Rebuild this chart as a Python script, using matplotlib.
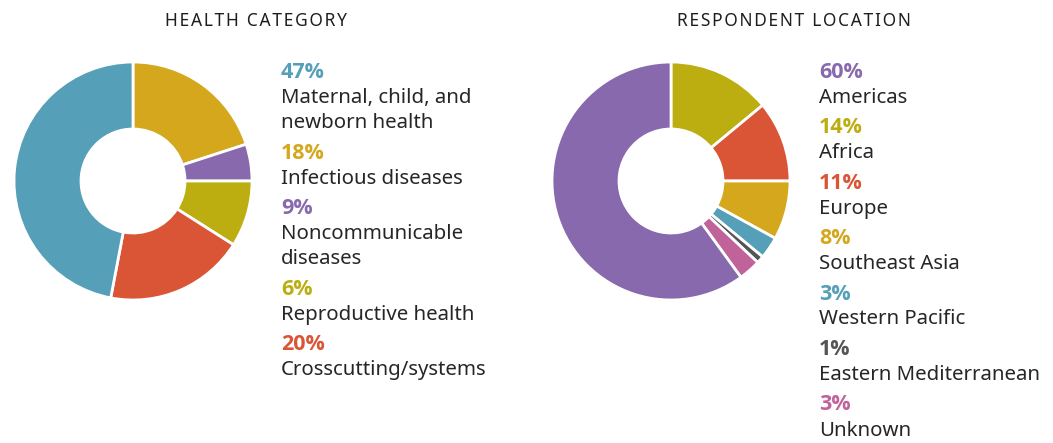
import matplotlib.pyplot as plt

# health category (wedge sizes read from the donut, labels from the legend)
health_sizes = [20, 5, 9, 19, 47]
health_colors = ['#d5a71d', '#8869ad', '#bcae10', '#d95535', '#55a0b8']
health_pct = ['47%', '18%', '9%', '6%', '20%']
health_labels = ['Maternal, child, and\nnewborn health', 'Infectious diseases',
                 'Noncommunicable\ndiseases', 'Reproductive health', 'Crosscutting/systems']
health_label_colors = ['#55a0b8', '#d5a71d', '#8869ad', '#bcae10', '#d95535']

# respondent location
loc_sizes = [14, 11, 8, 3, 1, 3, 60]
loc_colors = ['#bcae10', '#d95535', '#d5a71d', '#55a0b8', '#555555', '#c0639a', '#8869ad']
loc_pct = ['60%', '14%', '11%', '8%', '3%', '1%', '3%']
loc_labels = ['Americas', 'Africa', 'Europe', 'Southeast Asia', 'Western Pacific',
              'Eastern Mediterranean', 'Unknown']
loc_label_colors = ['#8869ad', '#bcae10', '#d95535', '#d5a71d', '#55a0b8', '#555555', '#c0639a']

W, H = 1053, 443
plt.rcParams['font.family'] = ['Noto Sans', 'DejaVu Sans']
fig = plt.figure(figsize=(W / 100, H / 100), dpi=100)
ax = fig.add_axes([0, 0, 1, 1])

wp = dict(width=67, edgecolor='white', linewidth=2)
ax.pie(health_sizes, colors=health_colors, startangle=90, counterclock=False,
       center=(133, H - 181), radius=119, wedgeprops=wp, frame=True)
ax.pie(loc_sizes, colors=loc_colors, startangle=90, counterclock=False,
       center=(671, H - 181), radius=119, wedgeprops=wp, frame=True)

ax.set_xlim(0, W)
ax.set_ylim(0, H)
ax.set_aspect('equal')
ax.axis('off')


def spaced(s):
    # hair spaces between letters to get the tracked look of the titles
    return '\u200a'.join(s)


ax.text(256, H - 21, spaced('HEALTH CATEGORY'), ha='center', va='center', fontsize=12.5,
        color='#1e1e1e', family=['Noto Sans', 'DejaVu Sans'])
ax.text(794, H - 21, spaced('RESPONDENT LOCATION'), ha='center', va='center', fontsize=12.5,
        color='#1e1e1e', family=['Noto Sans', 'DejaVu Sans'])


def legend(x, y, pcts, labels, colors):
    for p, lab, c in zip(pcts, labels, colors):
        ax.text(x, H - y, p, ha='left', va='center', fontsize=15.5,
                fontweight='bold', color=c, family=['Open Sans', 'DejaVu Sans'])
        y += 25.5
        for line in lab.split('\n'):
            ax.text(x, H - y, line, ha='left', va='center', fontsize=14.7, color='#262626')
            y += 25.5
        y += 4.5


legend(281, 72, health_pct, health_labels, health_label_colors)
legend(819, 72, loc_pct, loc_labels, loc_label_colors)

plt.savefig('out.png', dpi=100)
